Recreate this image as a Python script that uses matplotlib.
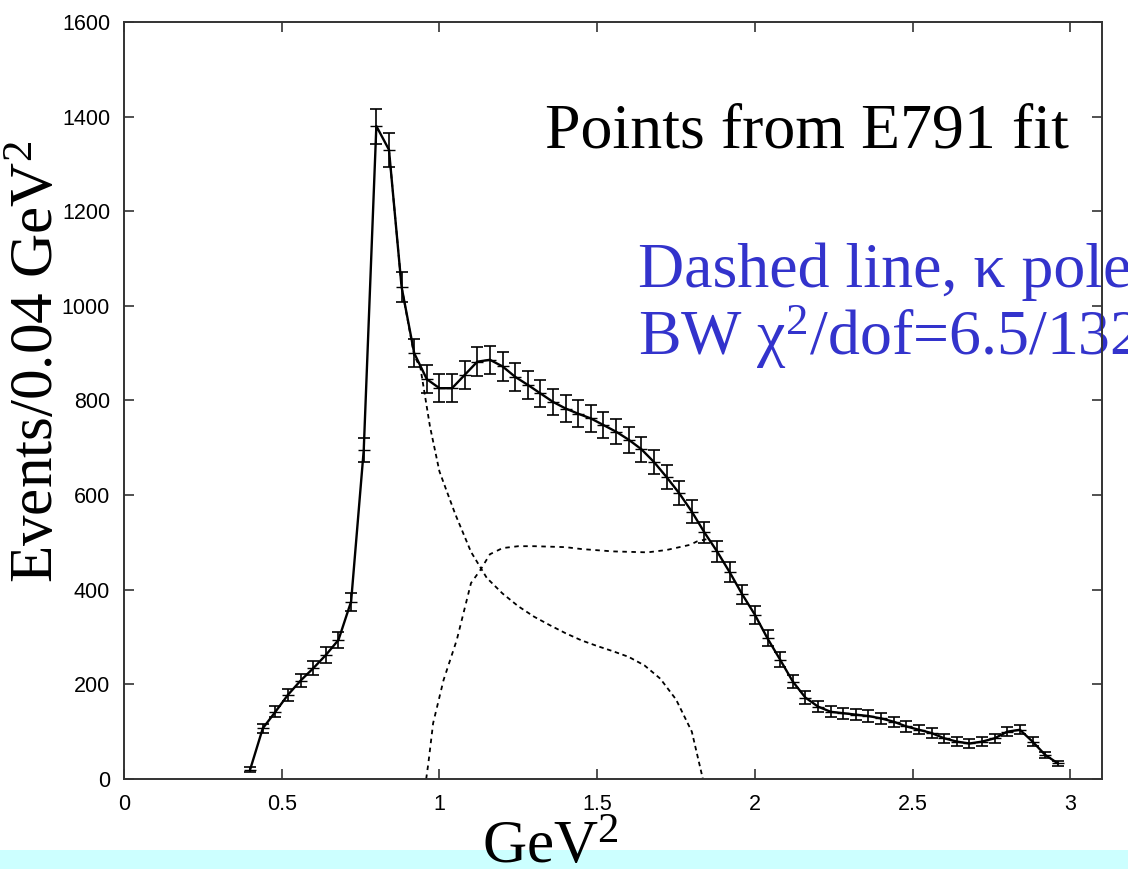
#recreates the E791 fit figure: events per 0.04 GeV^2 with fit and two dashed components

import matplotlib
matplotlib.use('Agg')
import matplotlib.pyplot as plt
from matplotlib.patches import Rectangle

plt.rcParams['mathtext.fontset'] = 'custom'
plt.rcParams['mathtext.rm'] = 'Liberation Serif'
plt.rcParams['mathtext.it'] = 'Liberation Serif:italic'

#data points (bin centres, GeV^2), counts and errors
mass2 = [0.40, 0.44, 0.48, 0.52, 0.56, 0.60, 0.64, 0.68, 0.72, 0.76,
         0.80, 0.84, 0.88, 0.92, 0.96, 1.00, 1.04, 1.08, 1.12, 1.16,
         1.20, 1.24, 1.28, 1.32, 1.36, 1.40, 1.44, 1.48, 1.52, 1.56,
         1.60, 1.64, 1.68, 1.72, 1.76, 1.80, 1.84, 1.88, 1.92, 1.96,
         2.00, 2.04, 2.08, 2.12, 2.16, 2.20, 2.24, 2.28, 2.32, 2.36,
         2.40, 2.44, 2.48, 2.52, 2.56, 2.60, 2.64, 2.68, 2.72, 2.76,
         2.80, 2.84, 2.88, 2.92, 2.96]
events = [20, 107, 142, 178, 208, 234, 262, 294, 375, 695,
          1380, 1330, 1040, 900, 845, 826, 826, 854, 882, 886,
          872, 850, 833, 815, 797, 783, 772, 762, 748, 734,
          717, 697, 670, 638, 604, 565, 521, 481, 437, 390,
          347, 297, 252, 206, 172, 153, 142, 139, 136, 133,
          128, 121, 111, 104, 97, 86, 79, 75, 79, 86,
          100, 104, 79, 51, 33]
errors = [5, 10, 12, 13, 14, 15, 16, 17, 19, 26,
          37, 36, 32, 30, 29, 29, 29, 29, 30, 30,
          30, 29, 29, 29, 28, 28, 28, 28, 27, 27,
          27, 26, 26, 25, 25, 24, 23, 22, 21, 20,
          19, 17, 16, 14, 13, 12, 12, 12, 12, 12,
          11, 11, 11, 10, 10, 9, 9, 9, 9, 9,
          10, 10, 9, 7, 6]

#falling dashed component
comp1_x = [0.84, 0.88, 0.92, 0.94, 0.97, 1.00, 1.05, 1.10, 1.15, 1.20,
           1.25, 1.30, 1.35, 1.40, 1.45, 1.50, 1.55, 1.60, 1.65, 1.70,
           1.75, 1.80, 1.835]
comp1_y = [1330, 1040, 895, 868, 745, 650, 560, 480, 425, 392,
           365, 343, 325, 308, 293, 281, 270, 258, 240, 212,
           168, 100, 0]

#rising dashed component (kappa pole)
comp2_x = [0.958, 0.965, 0.98, 1.013, 1.055, 1.10, 1.13, 1.16, 1.20, 1.25,
           1.30, 1.40, 1.45, 1.55, 1.66, 1.72, 1.795, 1.816, 1.848]
comp2_y = [0, 34, 118, 209, 294, 414, 442, 475, 488, 492,
           492, 490, 486, 481, 479, 484, 495, 502, 507]

xticks = [0, 0.5, 1, 1.5, 2, 2.5, 3]
xticklabels = ['0', '0.5', '1', '1.5', '2', '2.5', '3']
yticks = [0, 200, 400, 600, 800, 1000, 1200, 1400, 1600]

fig = plt.figure(figsize=(11.28, 8.69), dpi=100)
ax = fig.add_axes([0.1099, 0.1036, 0.867, 0.8711])

ax.plot(mass2, events, color='black', linewidth=1.7, zorder=3)
ax.errorbar(mass2, events, yerr=errors, fmt='_', color='black',
            markersize=9, elinewidth=1.2, capsize=4.6, capthick=1.2, zorder=4)
ax.plot(comp1_x, comp1_y, color='black', linewidth=1.3,
        linestyle=(0, (2.5, 2)), zorder=2)
ax.plot(comp2_x, comp2_y, color='black', linewidth=1.3,
        linestyle=(0, (2.5, 2.5)), zorder=2)

ax.set_xlim(0, 3.1)
ax.set_ylim(0, 1600)
ax.set_xticks(xticks)
ax.set_xticklabels(xticklabels)
ax.set_yticks(yticks)
ax.tick_params(direction='in', length=7, width=1.1, top=True, right=True,
               labelsize=15.5, color='#222222')
ax.tick_params(axis='x', pad=11)
ax.tick_params(axis='y', pad=10)
for lab in ax.get_xticklabels() + ax.get_yticklabels():
    lab.set_fontfamily('Liberation Sans')
for sp in ax.spines.values():
    sp.set_linewidth(1.4)
    sp.set_color('#333333')
    sp.set_zorder(5)

#annotation texts (the blue lines run off the right edge, as in the original)
ax.text(545/1128, 1-148/869, 'Points from E791 fit', transform=fig.transFigure,
        family='Liberation Serif', fontsize=46, color='black', va='baseline',
        zorder=1, clip_on=False)
ax.text(638/1128, 1-287/869, 'Dashed line, \u03ba pole', transform=fig.transFigure,
        family='Liberation Serif', fontsize=46, color='#3333CC', va='baseline',
        zorder=1, clip_on=False)
ax.text(638/1128, 1-355/869, 'BW \u03c7$^2$/dof=6.5/132', transform=fig.transFigure,
        family='Liberation Serif', fontsize=46, color='#3333CC', va='baseline',
        zorder=1, clip_on=False)

#light cyan strip along the bottom
fig.patches.append(Rectangle((0, 0), 1, 19/869, transform=fig.transFigure,
                             facecolor='#CCFFFF', edgecolor='none', zorder=0))

fig.text(550/1128, 1-863/869, r'GeV$^2$', family='Liberation Serif',
         fontsize=44, ha='center', va='baseline')
fig.text(38/1128, 1-362/869, r'Events/0.04 GeV$^2$', family='Liberation Serif',
         fontsize=44, ha='center', va='center', rotation=90)

plt.savefig('out.png', dpi=100)
